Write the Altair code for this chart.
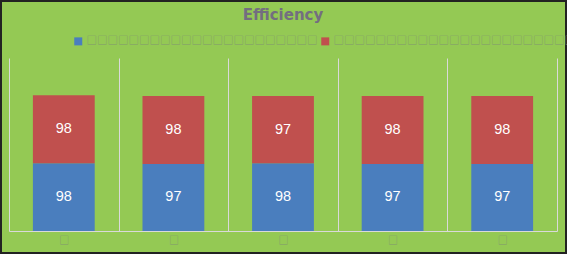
import altair as alt
import pandas as pd

categories = ["A", "B", "C", "D", "E"]
series_names = ["□" * 22, "□" * 30]
series1 = [98, 97, 98, 97, 97]
series2 = [98, 98, 97, 98, 98]

rows = []
for i, c in enumerate(categories):
    rows.append({"cat": c, "series": series_names[0], "value": series1[i], "order": 0})
    rows.append({"cat": c, "series": series_names[1], "value": series2[i], "order": 1})
df = pd.DataFrame(rows)

GREEN = "#94C954"
BLUE = "#4A7EBE"
RED = "#C0504E"
BOXGRAY = "#82976F"

x = alt.X("cat:N", sort=categories, title=None,
          scale=alt.Scale(paddingInner=0, paddingOuter=0),
          axis=alt.Axis(labelAngle=0, grid=True, tickBand="extent", ticks=False,
                        domainColor="#D9D9D9", gridColor="#D9D9D9", gridWidth=1,
                        labelColor=BOXGRAY, labelFont="Noto Sans CJK SC", labelFontSize=10,
                        labelPadding=4, labelExpr="datum.label ? '□' : ''"))
y = alt.Y("value:Q", stack="zero", axis=None,
          scale=alt.Scale(domain=[0, 250], nice=False, zero=True))

bars = alt.Chart(df).mark_bar(width=alt.RelativeBandSize(0.564)).encode(
    x=x, y=y,
    color=alt.Color("series:N", sort=series_names,
                    scale=alt.Scale(domain=series_names, range=[BLUE, RED]),
                    legend=alt.Legend(orient="none", legendX=64, legendY=-22,
                                      direction="horizontal", title=None,
                                      symbolType="square", symbolSize=64,
                                      symbolStrokeWidth=0, labelLimit=600,
                                      labelFont="Noto Sans CJK SC", labelFontSize=10.5,
                                      labelColor=BOXGRAY, labelOffset=3,
                                      columnPadding=2, padding=0)),
    order=alt.Order("order:Q"),
)

labels = alt.Chart(df).mark_text(color="white", fontSize=14.5, font="Liberation Sans").encode(
    x=alt.X("cat:N", sort=categories),
    y=alt.Y("value:Q", stack="zero", bandPosition=0.5),
    text=alt.Text("value:Q"),
    detail="series:N",
    order=alt.Order("order:Q"),
)

border = alt.Chart(df).mark_rect(filled=False, stroke="#222222", strokeWidth=1.5).encode(
    x=alt.value(-8.25), x2=alt.value(557.25), y=alt.value(-57.25), y2=alt.value(195.25)
)

chart = alt.layer(bars, labels, border).properties(
    width=548, height=173,
    title=alt.TitleParams("Efficiency", font="DejaVu Sans", fontSize=15, fontWeight="bold",
                          color="#736E80", anchor="middle", offset=0, dy=23, frame="group"),
    padding={"left": 9, "top": 58, "right": 10, "bottom": 23},
    autosize=alt.AutoSizeParams(type="none"),
    background=GREEN,
).configure_view(stroke=None)

chart.save("out.html", embed_options={"renderer": "svg", "actions": False})
